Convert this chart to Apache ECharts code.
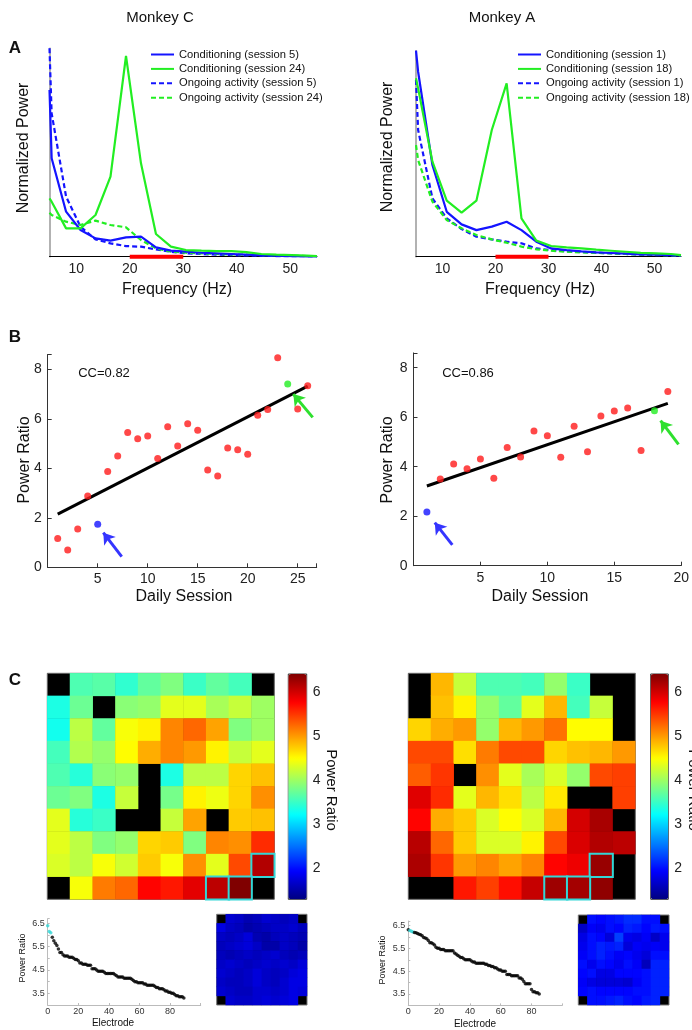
<!DOCTYPE html>
<html>
<head>
<meta charset="utf-8">
<script src="https://cdn.jsdelivr.net/npm/echarts/dist/echarts.min.js"></script>
<style>
html, body { margin: 0; padding: 0; background: #fff; }
#main { width: 692px; height: 1030px; }
</style>
</head>
<body>
<div id="main"></div>
<script>
// ---------- A: normalized spectra ----------
var freq = [5, 5.4, 8.1, 10.8, 13.6, 16.4, 19.3, 22.1, 24.9, 27.7, 30.5, 33.4, 36.2, 39, 41.8, 44.6, 47.4, 50.3, 53.1, 55];
var condC5  = [80, 47.2, 21.6, 12.8, 8.8, 7.7, 9.3, 9.6, 4.5, 2.9, 2.4, 1.9, 1.6, 1.3, 1.0, 0.6, 0.5, 0.3, 0.2, 0.2];
var condC24 = [28, 26.4, 13.6, 13.6, 20, 38.4, 96.3, 44.8, 10.9, 4.8, 3.2, 2.9, 2.7, 2.7, 2.2, 1.3, 1.0, 0.8, 0.5, 0.3];
var ongoC5  = [100, 68.8, 28.8, 14.4, 8.3, 6.4, 5.1, 4.8, 3.5, 2.4, 1.6, 1.3, 1.0, 0.8, 0.6, 0.5, 0.3, 0.3, 0.2, 0.2];
var ongoC24 = [21.1, 20, 16.8, 15.2, 17.3, 15.2, 14.1, 8, 4, 2.4, 1.9, 1.6, 1.3, 1.1, 1.0, 0.8, 0.6, 0.5, 0.3, 0.2];
var condA1  = [100, 89.8, 44.5, 21.8, 15.7, 12.9, 14.6, 17, 12.9, 7.3, 4.0, 3.2, 2.6, 2.1, 1.8, 1.5, 1.1, 1.0, 0.8, 0.6];
var condA18 = [86.6, 81.7, 46.1, 27.2, 21.4, 27.2, 61.5, 84.1, 18.6, 7.8, 5.2, 4.5, 4.0, 3.4, 2.9, 2.4, 1.9, 1.6, 1.3, 0.8];
var ongoA1  = [85.8, 61.5, 28.3, 18.6, 13.4, 9.7, 8.4, 7.3, 6.5, 4.0, 3.2, 2.6, 2.3, 1.9, 1.6, 1.3, 1.0, 0.8, 0.6, 0.5];
var ongoA18 = [54.2, 46.9, 26.7, 17.8, 13.8, 10.5, 8.4, 6.8, 4.9, 3.6, 2.9, 2.4, 2.1, 1.9, 1.6, 1.3, 1.1, 0.9, 0.7, 0.6];
var betaBand = [20, 30];

// ---------- B: power ratio per session ----------
var sessionC = [1, 2, 3, 4, 5, 6, 7, 8, 9, 10, 11, 12, 13, 14, 15, 16, 17, 18, 19, 20, 21, 22, 23, 24, 25, 26];
var ratioC = [1.16, 0.70, 1.55, 2.88, 1.74, 3.87, 4.50, 5.45, 5.20, 5.31, 4.40, 5.68, 4.90, 5.80, 5.54, 3.93, 3.69, 4.82, 4.75, 4.57, 6.14, 6.38, 8.47, 7.41, 6.40, 7.34];
var earlyC = 5, lateC = 24;
var fitC = [[1, 2.15], [26, 7.32]];
var arrowEarlyC = [[7.4, 0.43], [5.56, 1.40]];
var arrowLateC = [[26.5, 6.06], [24.56, 7.0]];

var sessionA = [1, 2, 3, 4, 5, 6, 7, 8, 9, 10, 11, 12, 13, 14, 15, 16, 17, 18, 19];
var ratioA = [2.17, 3.50, 4.11, 3.92, 4.31, 3.53, 4.78, 4.39, 5.44, 5.25, 4.38, 5.64, 4.61, 6.05, 6.25, 6.37, 4.66, 6.26, 7.04];
var earlyA = 1, lateA = 18;
var fitA = [[1, 3.22], [19, 6.56]];
var arrowEarlyA = [[2.9, 0.84], [1.59, 1.74]];
var arrowLateA = [[19.8, 4.9], [18.46, 5.86]];

// ---------- C: electrode maps (row by row, null = no electrode) ----------
var mapC = [
  [null, 3.6, 3.65, 3.45, 3.7, 3.85, 3.5, 3.7, 3.55, null],
  [3.35, 3.75, null, 3.9, 3.95, 4.35, 4.35, 4.05, 4.2, 4.0],
  [3.3, 4.15, 3.7, 4.45, 4.55, 5.1, 5.25, 4.95, 3.85, 4.0],
  [3.55, 4.1, 3.95, 4.5, 4.9, 5.1, 5.0, 4.55, 4.2, 4.35],
  [3.6, 3.4, 3.9, 3.95, null, 3.35, 4.15, 4.15, 4.7, 4.8],
  [3.75, 3.85, 3.35, 4.2, null, 3.8, 4.55, 4.4, 4.7, 5.05],
  [4.35, 3.4, 3.5, null, null, 4.2, 4.95, null, 4.75, 4.8],
  [4.35, 4.15, 3.85, 3.95, 4.7, 4.75, 3.85, 5.1, 5.05, 5.55],
  [4.3, 4.15, 4.45, 4.25, 4.75, 4.45, 5.05, 4.35, 5.4, 6.15],
  [null, 4.45, 5.15, 5.25, 5.75, 5.65, 5.9, 6.1, 6.4, null]
];
var boxesC = [[8, 9], [9, 7], [9, 8]];
var mapA = [
  [null, 4.85, 4.2, 3.6, 3.6, 3.55, 3.95, 3.5, null, null],
  [null, 4.8, 4.55, 3.95, 3.7, 4.35, 4.85, 3.55, 4.2, null],
  [4.7, 4.9, 5.0, 3.95, 4.85, 5.0, 5.2, 4.5, 4.5, null],
  [5.4, 5.4, 4.65, 5.15, 5.4, 5.4, 4.7, 4.8, 4.85, 5.0],
  [5.3, 5.5, null, 5.05, 4.35, 4.05, 4.3, 3.95, 5.4, 5.45],
  [5.92, 5.55, 4.35, 4.85, 4.65, 4.15, 4.6, null, null, 5.45],
  [5.75, 4.9, 4.75, 4.3, 4.5, 4.3, 4.85, 5.98, 6.2, null],
  [6.12, 5.25, 4.75, 4.3, 4.3, 4.55, 5.4, 5.95, 6.15, 6.1],
  [6.18, 5.5, 5.0, 5.1, 4.95, 5.1, 5.75, 5.85, 6.28, null],
  [null, null, 5.65, 5.45, 5.7, 6.05, 6.25, 6.22, 6.32, null]
];
var boxesA = [[8, 8], [9, 6], [9, 7]];

var smallC = [
  [null, 1.7, 1.65, 1.55, 1.6, 1.7, 1.65, 1.6, 1.65, null],
  [1.8, 1.65, 1.6, 1.5, 1.55, 1.6, 1.65, 1.65, 1.7, 1.6],
  [1.65, 1.6, 1.65, 1.75, 1.55, 1.5, 1.6, 1.65, 1.6, 1.55],
  [1.6, 1.65, 1.7, 1.75, 1.65, 1.5, 1.5, 1.65, 1.6, 1.5],
  [1.6, 1.55, 1.6, 1.65, 1.6, 1.65, 1.7, 1.6, 1.55, 1.6],
  [1.65, 1.7, 1.65, 1.6, 1.65, 1.7, 1.65, 1.7, 1.65, 1.75],
  [1.7, 1.65, 1.6, 1.65, 1.75, 1.65, 1.6, 1.65, 1.75, 1.8],
  [1.65, 1.6, 1.6, 1.65, 1.75, 1.65, 1.6, 1.7, 1.8, 1.8],
  [1.7, 1.65, 1.6, 1.6, 1.7, 1.7, 1.65, 1.7, 1.8, 1.75],
  [null, 1.7, 1.65, 1.65, 1.7, 1.75, 1.7, 1.75, 1.8, null]
];
var smallA = [
  [null, 2.0, 1.95, 2.0, 2.05, 2.15, 2.15, 2.0, 2.0, null],
  [1.65, 1.9, 1.85, 2.0, 1.95, 2.1, 2.05, 1.95, 2.05, 2.0],
  [1.8, 2.0, 1.95, 1.75, 2.25, 1.85, 1.8, 1.9, 1.65, 1.85],
  [1.85, 2.0, 2.1, 2.05, 2.1, 1.75, 1.9, 1.85, 1.9, 1.85],
  [1.9, 2.0, 2.1, 2.0, 1.9, 1.95, 1.85, 1.75, 2.0, 2.0],
  [2.0, 1.85, 2.0, 1.95, 1.85, 2.0, 1.9, 1.6, 2.1, 2.1],
  [1.95, 2.0, 1.8, 1.8, 1.95, 1.95, 1.95, 2.0, 2.1, 2.1],
  [1.9, 1.8, 1.75, 1.75, 1.75, 1.7, 1.9, 2.0, 2.1, 2.1],
  [1.95, 2.0, 1.95, 1.95, 1.95, 1.95, 2.0, 2.0, 2.1, 2.1],
  [null, 2.0, 2.0, 2.05, 2.1, 2.0, 1.95, 2.05, 2.1, null]
];

var cbMin = 1.3, cbMax = 6.4;
var jet = ['#000080', '#0000ff', '#0080ff', '#00ffff', '#80ff80', '#ffff00', '#ff8000', '#ff0000', '#800000'];
var FONT = '"Liberation Sans", Arial, Helvetica, sans-serif';
var BLUE = '#1414ff', GREEN = '#22ee22', RED = '#ff1a1a', CYAN = '#33d6d6';

function pairs(xs, ys) {
	var out = [];
	for (var i = 0; i < xs.length; i++) out.push([xs[i], ys[i]]);
	return out;
}
function isBoxed(boxes, r, c) {
	for (var i = 0; i < boxes.length; i++) if (boxes[i][0] === r && boxes[i][1] === c) return true;
	return false;
}
function heatCells(map, boxes) {
	var plain = [], boxed = [];
	for (var r = 0; r < map.length; r++) {
		for (var c = 0; c < map[r].length; c++) {
			if (map[r][c] === null) continue;
			if (isBoxed(boxes, r, c)) {
				boxed.push({ value: [c, r, map[r][c]], itemStyle: { borderColor: CYAN, borderWidth: 2 } });
			} else {
				plain.push([c, r, map[r][c]]);
			}
		}
	}
	return plain.concat(boxed);
}
function rankCells(map, boxes) {
	var list = [];
	for (var r = 0; r < map.length; r++)
		for (var c = 0; c < map[r].length; c++)
			if (map[r][c] !== null) list.push({ v: map[r][c], b: isBoxed(boxes, r, c) });
	list.sort(function (a, b) { return b.v - a.v; });
	return list.map(function (d, i) {
		return { value: [i, d.v], itemStyle: { color: d.b ? CYAN : '#000' } };
	});
}
function sessionPoints(ss, rs, early, late) {
	return ss.map(function (s, i) {
		var col = s === early ? BLUE : (s === late ? GREEN : RED);
		return { value: [s, rs[i]], itemStyle: { color: col } };
	});
}
function arrow(pts, color) {
	var ls = { color: color, width: 3, type: 'solid' };
	return [{ coord: pts[0], lineStyle: ls }, { coord: pts[1], lineStyle: ls }];
}

var grids = [
	{ left: 49.5, top: 48.3, width: 267.5, height: 208.4 },
	{ left: 416, top: 50.7, width: 265, height: 206 },
	{ left: 47.7, top: 354.5, width: 269, height: 212.8 },
	{ left: 413.5, top: 352.9, width: 270, height: 212.8 },
	{ left: 47.3, top: 673.3, width: 227, height: 226, show: true, backgroundColor: '#000', borderColor: '#666', borderWidth: 1 },
	{ left: 408.3, top: 673.3, width: 227, height: 226, show: true, backgroundColor: '#000', borderColor: '#666', borderWidth: 1 },
	{ left: 288.3, top: 674, width: 18.4, height: 225.3, show: true, borderColor: '#333', borderWidth: 1 },
	{ left: 650.7, top: 674, width: 17.6, height: 225.3, show: true, borderColor: '#333', borderWidth: 1 },
	{ left: 47.7, top: 918.7, width: 153, height: 86.3 },
	{ left: 408.3, top: 921, width: 154, height: 84.4 },
	{ left: 216.7, top: 914.3, width: 90.3, height: 90.7, show: true, backgroundColor: '#000', borderColor: '#777', borderWidth: 1 },
	{ left: 578.3, top: 915, width: 90.7, height: 90, show: true, backgroundColor: '#000', borderColor: '#777', borderWidth: 1 }
];

var cats = ['0', '1', '2', '3', '4', '5', '6', '7', '8', '9'];
var noSplit = { show: false };
function specX(g) {
	return { gridIndex: g, type: 'value', min: 5, max: 55, interval: 5,
		axisLine: { onZero: false, lineStyle: { color: '#000', width: 1 } }, axisTick: { show: false }, splitLine: noSplit,
		axisLabel: { fontSize: 14, color: '#222', margin: 5, fontFamily: FONT, formatter: function (v) { return v % 10 === 0 ? v : ''; } } };
}
function specY(g) {
	return { gridIndex: g, type: 'value', min: 0, max: 100, axisLine: { show: true, onZero: false, lineStyle: { color: '#999', width: 1.5 } },
		axisTick: { show: false }, axisLabel: { show: false }, splitLine: noSplit };
}
function sessX(g, max) {
	return { gridIndex: g, type: 'value', min: 0, max: max, interval: 5,
		axisLine: { onZero: false, lineStyle: { color: '#333' } }, axisTick: { inside: true, length: 4, lineStyle: { color: '#333' } }, splitLine: noSplit,
		axisLabel: { fontSize: 14, color: '#222', margin: 5, fontFamily: FONT, formatter: function (v) { return (v > 0 && v % 5 === 0) ? v : ''; } } };
}
function sessY(g) {
	return { gridIndex: g, type: 'value', min: 0, max: 8.6, interval: 2,
		axisLine: { show: true, onZero: false, lineStyle: { color: '#333' } }, axisTick: { show: true, inside: true, length: 4, lineStyle: { color: '#333' } }, splitLine: noSplit,
		axisLabel: { fontSize: 14, color: '#222', margin: 6, fontFamily: FONT, formatter: function (v) { return v % 2 === 0 ? v : ''; } } };
}
function catAxis(g, inv) {
	return { gridIndex: g, type: 'category', data: cats, show: false, inverse: !!inv };
}
function cbY(g) {
	return { gridIndex: g, type: 'value', position: 'right', min: cbMin, max: cbMax, interval: 0.1,
		axisLine: { show: false }, axisTick: { show: false }, splitLine: noSplit,
		axisLabel: { fontSize: 14, color: '#222', margin: 6, fontFamily: FONT,
			formatter: function (v) { return Math.abs(v - Math.round(v)) < 1e-6 ? Math.round(v) : ''; } } };
}
function rankX(g) {
	return { gridIndex: g, type: 'value', min: 0, max: 100, interval: 20,
		axisLine: { onZero: false, lineStyle: { color: '#bbb' } }, axisTick: { inside: true, length: 2, lineStyle: { color: '#bbb' } }, splitLine: noSplit,
		axisLabel: { fontSize: 9, color: '#333', margin: 2, fontFamily: FONT, formatter: function (v) { return v < 100 ? v : ''; } } };
}
function rankY(g) {
	return { gridIndex: g, type: 'value', min: 3, max: 6.7, interval: 0.5,
		axisLine: { show: true, onZero: false, lineStyle: { color: '#bbb' } }, axisTick: { show: true, inside: true, length: 2, lineStyle: { color: '#bbb' } }, splitLine: noSplit,
		axisLabel: { fontSize: 9, color: '#333', margin: 3, fontFamily: FONT,
			formatter: function (v) { return Math.abs(v % 1 - 0.5) < 1e-6 ? v.toFixed(1) : ''; } } };
}

var xAxis = [specX(0), specX(1), sessX(2, 26.9), sessX(3, 20), catAxis(4), catAxis(5),
	{ gridIndex: 6, type: 'value', show: false }, { gridIndex: 7, type: 'value', show: false },
	rankX(8), rankX(9), catAxis(10), catAxis(11)];
var yAxis = [specY(0), specY(1), sessY(2), sessY(3), catAxis(4, true), catAxis(5, true),
	cbY(6), cbY(7), rankY(8), rankY(9), catAxis(10, true), catAxis(11, true)];

function spec(name, g, ys, color, dashed) {
	return { name: name, type: 'line', xAxisIndex: g, yAxisIndex: g, data: pairs(freq, ys), symbol: 'none',
		lineStyle: { color: color, width: 2.2, type: dashed ? [5, 3] : 'solid' }, itemStyle: { color: color }, z: dashed ? 3 : 4 };
}
function band(g) {
	return { name: 'band' + g, type: 'line', xAxisIndex: g, yAxisIndex: g, data: pairs(betaBand, [0, 0]), symbol: 'none', clip: false,
		lineStyle: { color: '#ff0000', width: 4 }, z: 6 };
}
function sessSeries(g, ss, rs, early, late, arrows) {
	return { type: 'scatter', xAxisIndex: g, yAxisIndex: g, symbolSize: 7, data: sessionPoints(ss, rs, early, late), z: 5,
		markLine: { silent: true, symbol: ['none', 'arrow'], symbolSize: 11, label: { show: false }, lineStyle: { type: 'solid', width: 3 }, data: arrows } };
}
function fitSeries(g, pts) {
	return { type: 'line', xAxisIndex: g, yAxisIndex: g, data: pts, symbol: 'none', lineStyle: { color: '#000', width: 3 }, z: 4 };
}
function heat(g, data) {
	return { type: 'heatmap', xAxisIndex: g, yAxisIndex: g, data: data, emphasis: { disabled: true }, progressive: 0 };
}
function rank(g, data) {
	return { type: 'scatter', xAxisIndex: g, yAxisIndex: g, symbol: 'circle', symbolSize: 3.5, data: data };
}

var series = [
	spec('Conditioning (session 5)', 0, condC5, BLUE, false),
	spec('Conditioning (session 24)', 0, condC24, GREEN, false),
	spec('Ongoing activity (session 5)', 0, ongoC5, BLUE, true),
	spec('Ongoing activity (session 24)', 0, ongoC24, GREEN, true),
	band(0),
	spec('Conditioning (session 1)', 1, condA1, BLUE, false),
	spec('Conditioning (session 18)', 1, condA18, GREEN, false),
	spec('Ongoing activity (session 1)', 1, ongoA1, BLUE, true),
	spec('Ongoing activity (session 18)', 1, ongoA18, GREEN, true),
	band(1),
	sessSeries(2, sessionC, ratioC, earlyC, lateC, [arrow(arrowEarlyC, '#3535ff'), arrow(arrowLateC, '#2ee02e')]),
	fitSeries(2, fitC),
	sessSeries(3, sessionA, ratioA, earlyA, lateA, [arrow(arrowEarlyA, '#3535ff'), arrow(arrowLateA, '#2ee02e')]),
	fitSeries(3, fitA),
	heat(4, heatCells(mapC, boxesC)),
	heat(5, heatCells(mapA, boxesA)),
	heat(10, heatCells(smallC, [])),
	heat(11, heatCells(smallA, [])),
	rank(8, rankCells(mapC, boxesC)),
	rank(9, rankCells(mapA, boxesA))
];

function legendAt(left, names) {
	return { data: names, left: left, top: 48.5, orient: 'vertical', itemWidth: 23, itemHeight: 12, itemGap: 2.4, padding: 0,
		selectedMode: false, itemStyle: { opacity: 0, borderWidth: 0 },
		textStyle: { fontSize: 11.2, color: '#111', fontFamily: FONT, lineHeight: 12 } };
}

function txt(x, y, s, size, rot, bold) {
	return { type: 'text', x: x, y: y, rotation: rot || 0, silent: true,
		style: { text: s, fontSize: size, fontFamily: FONT, fontWeight: bold ? 'bold' : 'normal', fill: '#111', align: 'center', verticalAlign: 'middle' } };
}
var R90 = Math.PI / 2;
var labels = [
	txt(160, 18, 'Monkey C', 15), txt(502, 18, 'Monkey A', 15),
	txt(15, 48, 'A', 17, 0, true), txt(15, 337, 'B', 17, 0, true), txt(15, 680, 'C', 17, 0, true),
	txt(24, 148, 'Normalized Power', 16, R90), txt(388, 147, 'Normalized Power', 16, R90),
	txt(177, 290, 'Frequency (Hz)', 16), txt(540, 290, 'Frequency (Hz)', 16),
	txt(25, 460, 'Power Ratio', 16, R90), txt(388, 460, 'Power Ratio', 16, R90),
	txt(184, 597, 'Daily Session', 16), txt(540, 597, 'Daily Session', 16),
	txt(104, 373, 'CC=0.82', 13), txt(468, 373, 'CC=0.86', 13),
	txt(331, 790, 'Power Ratio', 15, -R90), txt(693, 790, 'Power Ratio', 15, -R90),
	txt(23, 958, 'Power Ratio', 9, R90), txt(383, 960, 'Power Ratio', 9, R90),
	txt(113, 1023, 'Electrode', 10), txt(475, 1024, 'Electrode', 10)
];

var chart = echarts.init(document.getElementById('main'));
chart.setOption({
	animation: false,
	backgroundColor: '#fff',
	textStyle: { fontFamily: FONT },
	grid: grids,
	xAxis: xAxis,
	yAxis: yAxis,
	legend: [
		legendAt(150, ['Conditioning (session 5)', 'Conditioning (session 24)', 'Ongoing activity (session 5)', 'Ongoing activity (session 24)']),
		legendAt(517, ['Conditioning (session 1)', 'Conditioning (session 18)', 'Ongoing activity (session 1)', 'Ongoing activity (session 18)'])
	],
	visualMap: [
		{ type: 'continuous', min: cbMin, max: cbMax, seriesIndex: [14, 16], inRange: { color: jet }, calculable: false,
			left: 288.3, top: 674, itemWidth: 18.4, itemHeight: 225.3, padding: 0, hoverLink: false },
		{ type: 'continuous', min: cbMin, max: cbMax, seriesIndex: [15, 17], inRange: { color: jet }, calculable: false,
			left: 650.7, top: 674, itemWidth: 17.6, itemHeight: 225.3, padding: 0, hoverLink: false }
	],
	graphic: labels,
	series: series
});
</script>
</body>
</html>
